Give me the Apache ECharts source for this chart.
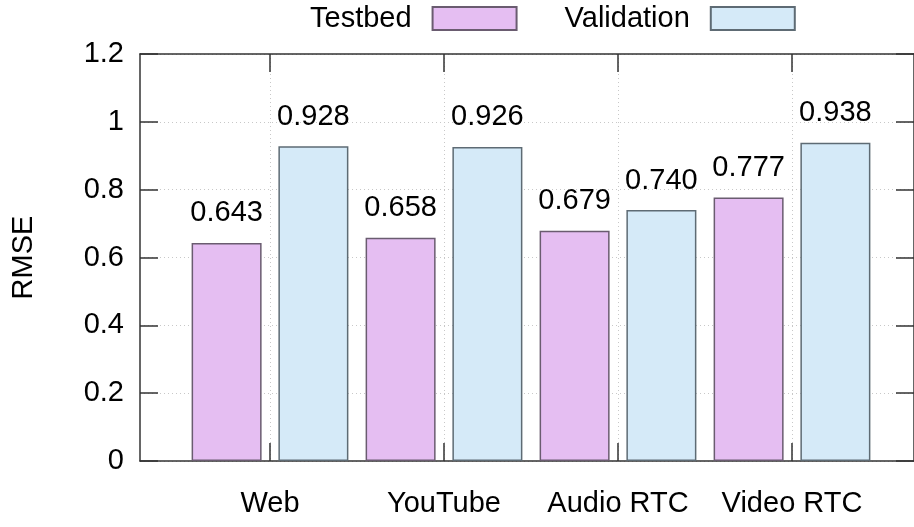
<!DOCTYPE html>
<html>
<head>
<meta charset="utf-8">
<script src="https://cdn.jsdelivr.net/npm/echarts@6/dist/echarts.min.js"></script>
<style>
  html, body { margin: 0; padding: 0; background: #fff; }
  #chart { width: 914px; height: 527px; }
</style>
</head>
<body>
<div id="chart"></div>
<script>
var categories = ["Web", "YouTube", "Audio RTC", "Video RTC"];
var testbed = [0.643, 0.658, 0.679, 0.777];
var validation = [0.928, 0.926, 0.740, 0.938];
var yTicks = [0, 0.2, 0.4, 0.6, 0.8, 1, 1.2];

var font = "'Liberation Sans', Arial, Helvetica, sans-serif";
var fs = 29;
var axisColor = '#333';
var dotted = { color: '#c8c8c8', type: [1, 3], width: 1 };

var myChart = echarts.init(document.getElementById('chart'));

function barLabel() {
  return {
    show: true,
    position: 'top',
    distance: 15,
    color: '#000',
    fontSize: fs,
    fontFamily: font,
    formatter: function (p) { return p.value.toFixed(3); }
  };
}

var option = {
  backgroundColor: '#fff',
  animation: false,
  legend: {
    left: 305,
    top: -1,
    align: 'right',
    icon: 'rect',
    itemWidth: 84,
    itemHeight: 23,
    itemGap: 47,
    textStyle: { fontSize: fs, fontFamily: font, color: '#000', padding: [0, 16, 0, 0] },
    data: ['Testbed', 'Validation']
  },
  grid: [
    // bars: category points sit on the ends, band = 174px
    { left: 270, right: 122, top: 54, bottom: 66 },
    // frame + y axis
    { left: 140, right: -9, top: 54, bottom: 66 }
  ],
  xAxis: [
    {
      gridIndex: 0,
      type: 'category',
      boundaryGap: false,
      data: categories,
      axisLine: { show: false },
      axisTick: { show: true, inside: true, length: 18, lineStyle: { color: axisColor, width: 1.5 } },
      axisLabel: { interval: 0, margin: 28, fontSize: fs, fontFamily: font, color: '#000' },
      splitLine: { show: true, interval: 0, lineStyle: dotted }
    },
    {
      gridIndex: 0,
      type: 'category',
      position: 'top',
      boundaryGap: false,
      data: categories,
      axisLine: { show: false },
      axisTick: { show: true, interval: 0, inside: true, length: 18, lineStyle: { color: axisColor, width: 1.5 } },
      axisLabel: { show: false },
      splitLine: { show: false }
    },
    {
      gridIndex: 1,
      type: 'value',
      min: 0, max: 1,
      axisLine: { show: true, onZero: false, lineStyle: { color: axisColor, width: 1.5 } },
      axisTick: { show: false },
      axisLabel: { show: false },
      splitLine: { show: false }
    },
    {
      gridIndex: 1,
      type: 'value',
      position: 'top',
      min: 0, max: 1,
      axisLine: { show: true, onZero: false, lineStyle: { color: axisColor, width: 1.5 } },
      axisTick: { show: false },
      axisLabel: { show: false },
      splitLine: { show: false }
    }
  ],
  yAxis: [
    {
      gridIndex: 0,
      type: 'value',
      min: 0, max: 1.2,
      show: false
    },
    {
      gridIndex: 1,
      type: 'value',
      min: 0, max: 1.2, interval: 0.2,
      name: 'RMSE',
      nameLocation: 'middle',
      nameGap: 102,
      nameTextStyle: { fontSize: fs, fontFamily: font, color: '#000' },
      axisLine: { show: true, onZero: false, lineStyle: { color: axisColor, width: 1.5 } },
      axisTick: { show: true, inside: true, length: 18, lineStyle: { color: axisColor, width: 1.5 } },
      axisLabel: {
        margin: 16, fontSize: fs, fontFamily: font, color: '#000',
        customValues: yTicks
      },
      splitLine: { show: true, lineStyle: dotted }
    },
    {
      gridIndex: 1,
      type: 'value',
      position: 'right',
      min: 0, max: 1.2, interval: 0.2,
      axisLine: { show: true, onZero: false, lineStyle: { color: axisColor, width: 1.5 } },
      axisTick: { show: true, inside: true, length: 18, lineStyle: { color: axisColor, width: 1.5 } },
      axisLabel: { show: false },
      splitLine: { show: false }
    }
  ],
  series: [
    {
      name: 'Testbed',
      type: 'bar',
      xAxisIndex: 0,
      yAxisIndex: 0,
      clip: false,
      barWidth: 70,
      barGap: '24%',
      itemStyle: { color: '#e5bef2', borderColor: '#6a5c70', borderWidth: 1.5 },
      label: barLabel(),
      data: testbed
    },
    {
      name: 'Validation',
      type: 'bar',
      xAxisIndex: 0,
      yAxisIndex: 0,
      clip: false,
      barWidth: 70,
      barGap: '24%',
      itemStyle: { color: '#d5eaf8', borderColor: '#5e6b74', borderWidth: 1.5 },
      label: barLabel(),
      data: validation
    }
  ]
};

myChart.setOption(option);
</script>
</body>
</html>
